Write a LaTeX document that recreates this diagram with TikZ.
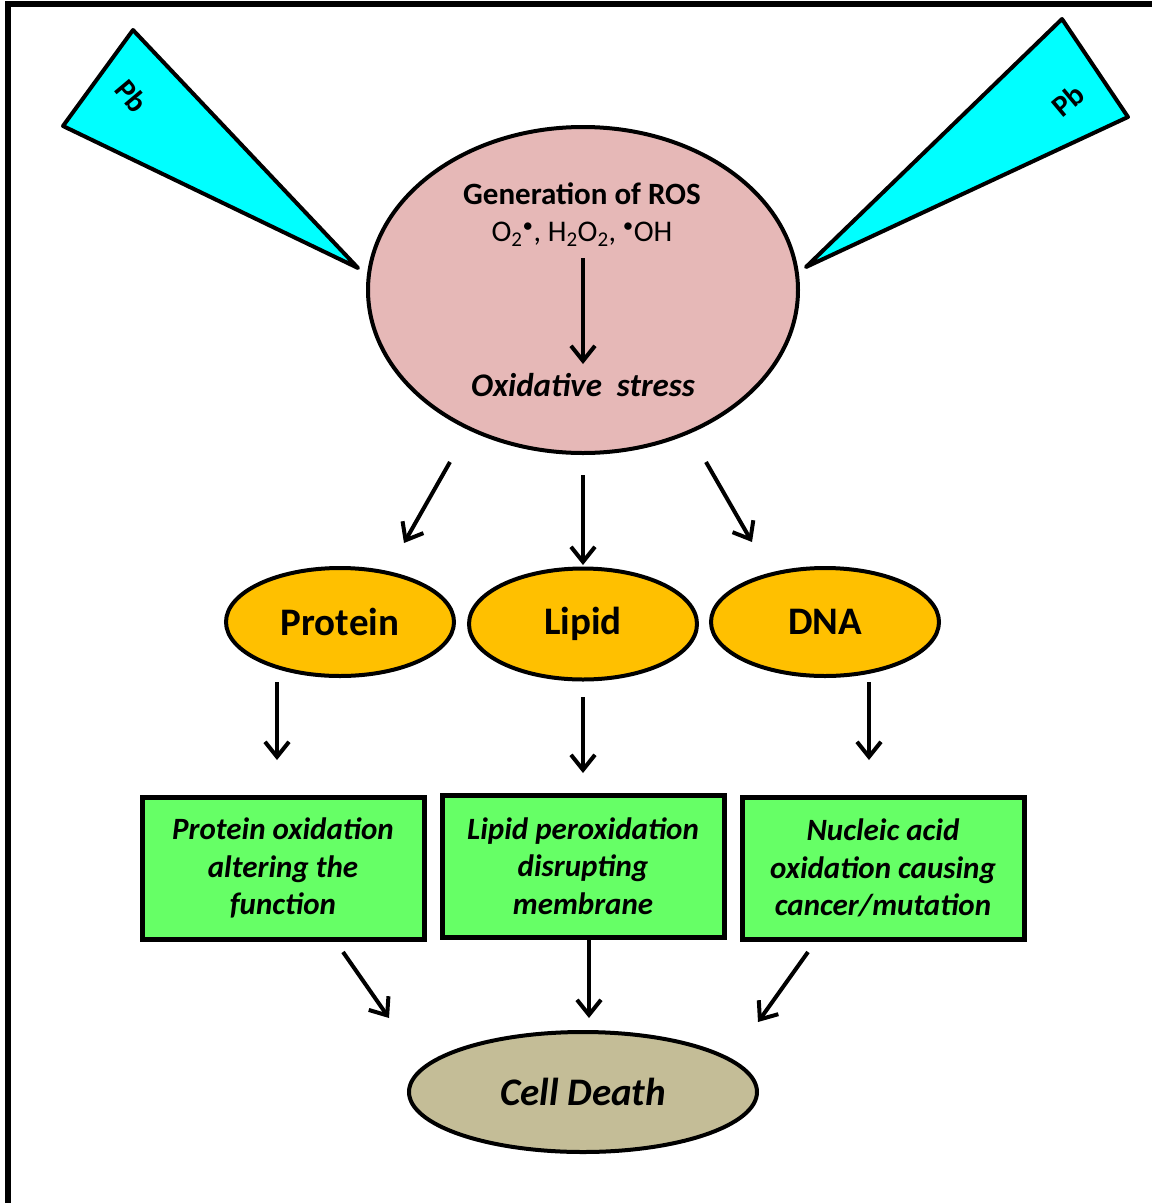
\documentclass[tikz,border=0pt]{standalone}
\usepackage{fontspec}
\setmainfont{Carlito}
\usetikzlibrary{shapes.geometric, arrows.meta}
\definecolor{rospink}{HTML}{E6B8B7}
\definecolor{molorange}{HTML}{FFC000}
\definecolor{effgreen}{HTML}{66FF66}
\definecolor{deathtan}{HTML}{C4BD97}
\definecolor{pbcyan}{HTML}{00FFFF}
\newcommand{\fsz}[1]{\fontsize{#1}{#1}\selectfont}

\begin{document}
\begin{tikzpicture}[x=1pt,y=-1pt,
  every node/.style={align=center,inner sep=0pt},
  blob/.style={draw,ellipse,line width=4pt},
  mol/.style={blob,fill=molorange,minimum width=228pt,minimum height=108pt,font=\fsz{39}\bfseries},
  effect/.style={draw,rectangle,line width=5pt,fill=effgreen,minimum width=282pt,minimum height=142pt,
    font=\fontsize{31}{37.5}\selectfont\bfseries\itshape},
  wedge/.style={draw,line width=4pt,fill=pbcyan,line join=round},
  arr/.style={-{Straight Barb[length=15pt,width=24pt]},line width=4pt}]
  \clip (0,0) rectangle (1152,1203);
  \fill[white] (0,0) rectangle (1152,1203);
  \draw[line width=6pt] (8,1260) -- (8,4) -- (1200,4);
  % lead wedges
  \draw[wedge] (133,30) -- (63,126) -- (358,268) -- cycle;
  \draw[wedge] (1062,19) -- (1128,117) -- (806,267) -- cycle;
  \path (132,96) node[rotate=-50,font=\fsz{30}\bfseries] (pbl) {Pb}
  (1068,100) node[rotate=40,font=\fsz{30}\bfseries] (pbr) {Pb};
  % ROS
  \node[blob,fill=rospink,minimum width=430pt,minimum height=326pt] (ros) at (583,290) {};
  \path (582,194) node[font=\fsz{31}\bfseries] (gen) {Generation of ROS}
  (582,234) node[font=\fsz{30}] (form) {O\textsubscript{2}\textsuperscript{\textbullet}, H\textsubscript{2}O\textsubscript{2}, \textsuperscript{\textbullet}OH}
  (583,385) node[font=\fsz{33}\bfseries\itshape] (oxs) {Oxidative\ \ stress};
  \path (583,258) coordinate (f1) (583,364) coordinate (f2);
  \draw[arr] (f1) -- (f2);
  % targets
  \node[mol] (prot) at (340,622) {Protein};
  \node[mol,minimum height=111pt] (lip) at (583,624) {Lipid};
  \node[mol] (dna) at (825,622) {DNA};
  \path (450,462) coordinate (r1) (404,543) coordinate (p0)
  (583,475) coordinate (r2) (583,565) coordinate (l0)
  (706,462) coordinate (r3) (752,542) coordinate (d0);
  \draw[arr] (r1) -- (p0);
  \draw[arr] (r2) -- (l0);
  \draw[arr] (r3) -- (d0);
  % effects
  \node[effect] (bprot) at (283,868) {Protein oxidation\\altering the\\function};
  \node[effect] (blip) at (583,866) {Lipid peroxidation\\disrupting\\membrane};
  \node[effect] (bdna) at (883,868) {Nucleic acid\\oxidation causing\\cancer/mutation};
  \path (277,682) coordinate (p1) (277,760) coordinate (p2)
  (583,697) coordinate (l1) (583,773) coordinate (l2)
  (869,682) coordinate (d1) (869,760) coordinate (d2);
  \draw[arr] (p1) -- (p2);
  \draw[arr] (l1) -- (l2);
  \draw[arr] (d1) -- (d2);
  % outcome
  \node[blob,fill=deathtan,minimum width=348pt,minimum height=120pt,font=\fsz{39}\bfseries\itshape] (death) at (583,1092) {Cell Death};
  \path (343,952) coordinate (e1) (389,1018) coordinate (c1)
  (589,940) coordinate (e2) (589,1018) coordinate (c2)
  (808,952) coordinate (e3) (758,1022) coordinate (c3);
  \draw[arr] (e1) -- (c1);
  \draw[arr] (e2) -- (c2);
  \draw[arr] (e3) -- (c3);
\end{tikzpicture}
\end{document}
